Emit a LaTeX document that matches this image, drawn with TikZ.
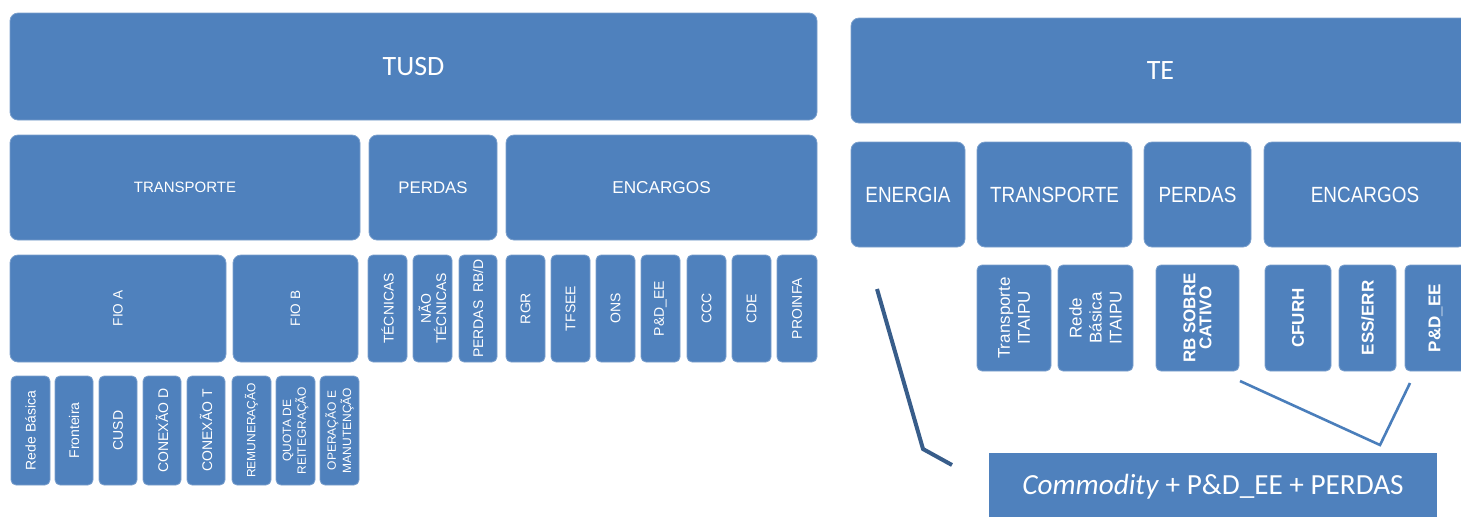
\documentclass[tikz,border=0pt]{standalone}
\usepackage{fontspec}
\setmainfont{Liberation Sans}
\newfontfamily\calfont{Carlito}
\newfontfamily\narrowfont[FakeStretch=0.86]{Liberation Sans}
\usepackage{tikz}

\definecolor{boxblue}{RGB}{79,129,189}
\definecolor{darkline}{RGB}{56,93,138}
\definecolor{lightline}{RGB}{74,126,187}

\tikzset{
  cell/.style={fill=boxblue, draw=boxblue!75!white, line width=0.4pt, rounded corners=4pt,
    inner sep=0pt, text=white},
  vcell/.style={cell, rounded corners=2.5pt, rotate=90},
  lines/.style={align=center},
  big/.style={font=\calfont\fontsize{14}{16}\selectfont},
  mid/.style={font=\narrowfont\fontsize{11}{13}\selectfont},
  tiny/.style={font=\fontsize{7}{7.6}\selectfont},
  tinier/.style={font=\fontsize{6}{6.1}\selectfont},
  itaipu/.style={font=\fontsize{8.5}{10}\selectfont},
  itaipub/.style={font=\bfseries\fontsize{8.5}{8}\selectfont},
}

\begin{document}
\begin{tikzpicture}[x=0.5pt,y=-0.5pt]

	\useasboundingbox (0,0) rectangle (1461,516);
	\clip (0,0) rectangle (1461,516);

	% TUSD
	\node[cell, big, minimum width=403.5pt, minimum height=53.5pt] (tusd) at (413.5,66.5) {TUSD};

	\node[cell, font=\fontsize{7.5}{9}\selectfont, minimum width=175pt, minimum height=52.5pt] (transp) at (185,187.5) {TRANSPORTE};
	\node[cell, font=\fontsize{8.4}{10}\selectfont, minimum width=64pt, minimum height=52.5pt] (perdas) at (433,187.5) {PERDAS};
	\node[cell, font=\fontsize{8.6}{10}\selectfont, minimum width=155.5pt, minimum height=52.5pt] (encargos) at (661.5,187.5) {ENCARGOS};

	\node[vcell, rounded corners=4pt, font=\fontsize{6.8}{8}\selectfont, minimum width=53.5pt, minimum height=108pt] (fioA) at (118,308.5) {FIO A};
	\node[vcell, rounded corners=4pt, font=\fontsize{6.8}{8}\selectfont, minimum width=53.5pt, minimum height=62.5pt] (fioB) at (295.5,308.5) {FIO B};

	\node[vcell, tiny, minimum width=53.5pt, minimum height=19.5pt] (tec) at (387.5,308.5) {TÉCNICAS};
	\node[vcell, tiny, lines, minimum width=53.5pt, minimum height=19.5pt] (naotec) at (432.5,308.5) {NÃO\\TÉCNICAS};
	\node[vcell, tiny, minimum width=53.5pt, minimum height=19pt] (perdasRBD) at (478,308.5) {PERDAS\ \ RB/D};
	\node[vcell, tiny, minimum width=53.5pt, minimum height=19.5pt] (rgr) at (525.5,308.5) {RGR};
	\node[vcell, tiny, minimum width=53.5pt, minimum height=19.5pt] (tfsee) at (570.5,308.5) {TFSEE};
	\node[vcell, tiny, minimum width=53.5pt, minimum height=19.5pt] (ons) at (615.5,308.5) {ONS};
	\node[vcell, tiny, minimum width=53.5pt, minimum height=19.5pt] (pdee) at (660.5,308.5) {P\&D\_EE};
	\node[vcell, tiny, minimum width=53.5pt, minimum height=19.5pt] (ccc) at (706.5,308.5) {CCC};
	\node[vcell, tiny, minimum width=53.5pt, minimum height=19.5pt] (cde) at (751.5,308.5) {CDE};
	\node[vcell, tiny, minimum width=53.5pt, minimum height=20pt] (proinfa) at (797,308.5) {PROINFA};

	\node[vcell, tiny, minimum width=54.5pt, minimum height=19.5pt] (rede) at (30.5,430.5) {Rede Básica};
	\node[vcell, tiny, minimum width=54.5pt, minimum height=19pt] (fronteira) at (74,430.5) {Fronteira};
	\node[vcell, tiny, minimum width=54.5pt, minimum height=19pt] (cusd) at (118,430.5) {CUSD};
	\node[vcell, tiny, minimum width=54.5pt, minimum height=19pt] (conD) at (162,430.5) {CONEXÃO D};
	\node[vcell, tiny, minimum width=54.5pt, minimum height=19pt] (conT) at (206,430.5) {CONEXÃO T};
	\node[vcell, tinier, minimum width=54.5pt, minimum height=19.5pt] (remun) at (251.5,430.5) {REMUNERAÇÃO};
	\node[vcell, tinier, lines, minimum width=54.5pt, minimum height=19.5pt] (quota) at (295.5,430.5) {QUOTA DE\\REITEGRAÇÃO};
	\node[vcell, tinier, lines, minimum width=54.5pt, minimum height=19.5pt] (opman) at (339.5,430.5) {OPERAÇÃO E\\MANUTENÇÃO};

	% TE
	\node[cell, big, minimum width=309.5pt, minimum height=52.5pt] (te) at (1160.5,70.5) {TE};

	\node[cell, mid, minimum width=57pt, minimum height=52.5pt] (energia) at (908,194.5) {ENERGIA};
	\node[cell, mid, minimum width=77.5pt, minimum height=52.5pt] (transpTe) at (1054.5,194.5) {TRANSPORTE};
	\node[cell, mid, minimum width=53.5pt, minimum height=52.5pt] (perdasTe) at (1197.5,194.5) {PERDAS};
	\node[cell, mid, minimum width=101pt, minimum height=52.5pt] (encargosTe) at (1365,194.5) {ENCARGOS};

	\node[vcell, itaipu, lines, minimum width=53pt, minimum height=37pt] (trItaipu) at (1014,318) {Transporte\\ITAIPU};
	\node[vcell, itaipu, lines, minimum width=53pt, minimum height=37.5pt] (rbItaipu) at (1095.5,318) {Rede\\Básica\\ITAIPU};
	\node[vcell, itaipub, lines, minimum width=53pt, minimum height=41.5pt] (rbCativo) at (1197.5,318) {RB SOBRE\\CATIVO};
	\node[vcell, itaipub, minimum width=53pt, minimum height=33pt] (cfurh) at (1298,318) {CFURH};
	\node[vcell, itaipub, minimum width=53pt, minimum height=28.5pt] (ess) at (1367.5,318) {ESS/ERR};
	\node[vcell, itaipub, minimum width=53pt, minimum height=30.5pt] (pdeeTe) at (1435.5,318) {P\&D\_EE};

	\node[cell, rounded corners=0pt, draw=none, font=\calfont\fontsize{14.6}{17}\selectfont,
		minimum width=224pt, minimum height=33.5pt] (commodity) at (1213,486.5) {\textit{Commodity} + P\&D\_EE + PERDAS};

	% connectors
	\coordinate (enTop) at (877,289);
	\coordinate (enBend) at (923,449);
	\coordinate (enEnd) at (952,465);
	\draw[darkline, line width=2pt] (enTop) -- (enBend) -- (enEnd);

	\coordinate (rbEnd) at (1240,381);
	\coordinate (brBend) at (1380,445);
	\coordinate (pdEnd) at (1410,383);
	\draw[lightline, line width=1.3pt] (rbEnd) -- (brBend) -- (pdEnd);

\end{tikzpicture}
\end{document}
